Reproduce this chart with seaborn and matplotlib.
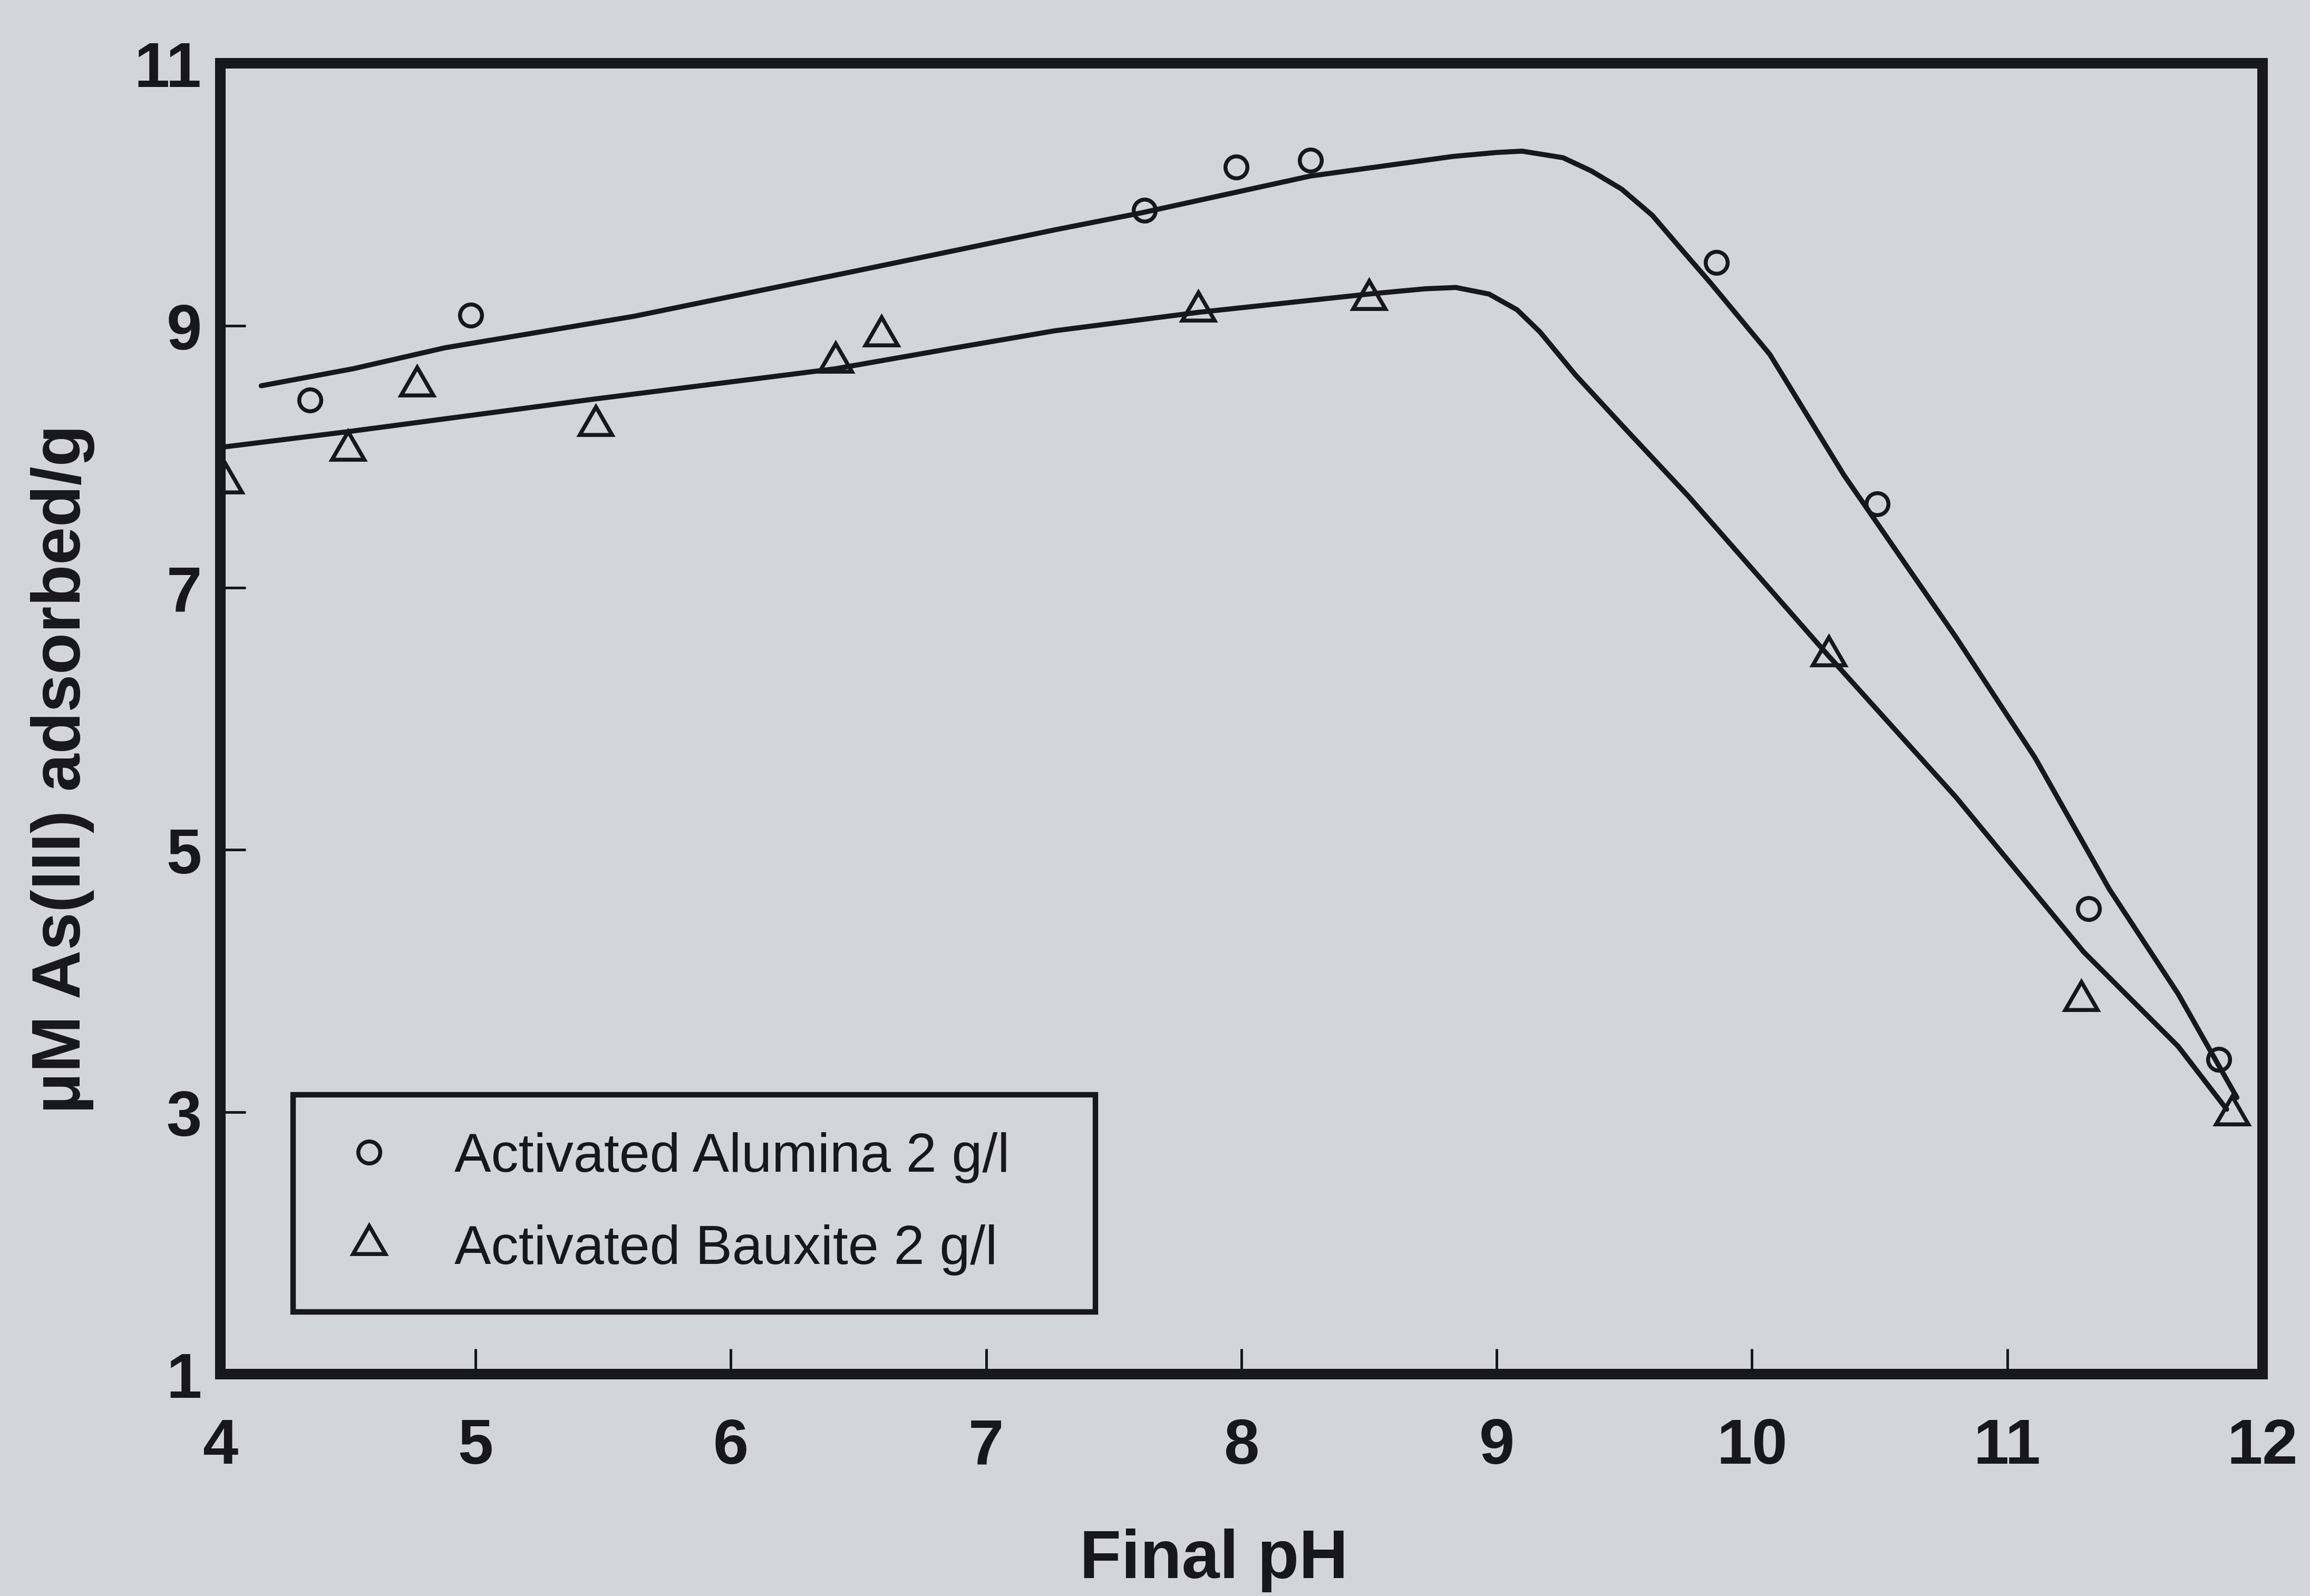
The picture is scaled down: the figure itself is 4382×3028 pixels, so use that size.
import matplotlib
matplotlib.use("Agg")
import matplotlib.pyplot as plt
from matplotlib.lines import Line2D
import seaborn as sns

# measured points (Final pH, uM As(III) adsorbed/g)
ph_alumina = [4.35, 4.98, 7.62, 7.98, 8.27, 9.86, 10.49, 11.32, 11.83]
as_alumina = [8.43, 9.08, 9.88, 10.21, 10.26, 9.48, 7.64, 4.55, 3.40]

ph_bauxite = [4.02, 4.50, 4.77, 5.47, 6.41, 6.59, 7.83, 8.50, 10.30, 11.29, 11.88]
as_bauxite = [7.80, 8.05, 8.54, 8.24, 8.72, 8.92, 9.11, 9.20, 6.48, 3.85, 2.98]

# fitted curves
fit_ph_alumina = [4.16, 4.52, 4.88, 5.25, 5.62, 6.50, 7.27, 7.61, 8.27, 8.83, 9.00,
                  9.10, 9.26, 9.37, 9.49, 9.61, 9.72, 9.84, 10.07, 10.36, 10.80,
                  11.11, 11.40, 11.67, 11.90]
fit_as_alumina = [8.54, 8.67, 8.83, 8.95, 9.07, 9.42, 9.73, 9.86, 10.14, 10.29, 10.32,
                  10.33, 10.28, 10.18, 10.04, 9.84, 9.59, 9.32, 8.78, 7.86, 6.62,
                  5.70, 4.70, 3.90, 3.11]

fit_ph_bauxite = [4.00, 4.50, 5.47, 6.41, 6.85, 7.27, 7.83, 8.50, 8.72, 8.84, 8.97,
                  9.08, 9.17, 9.31, 9.50, 9.75, 10.30, 10.80, 11.30, 11.67, 11.86]
fit_as_bauxite = [8.07, 8.19, 8.44, 8.67, 8.82, 8.96, 9.10, 9.24, 9.28, 9.29, 9.24,
                  9.12, 8.95, 8.62, 8.22, 7.70, 6.48, 5.40, 4.22, 3.50, 3.02]

labels = ["Activated Alumina 2 g/l", "Activated Bauxite 2 g/l"]
x_ticks = [4, 5, 6, 7, 8, 9, 10, 11, 12]
y_ticks = [1, 3, 5, 7, 9, 11]

bg = "#d3d5db"
ink = "#17171d"

sns.set_theme(style="ticks")
plt.rcParams["font.family"] = ["Liberation Sans", "DejaVu Sans"]
plt.rcParams["text.color"] = ink
plt.rcParams["axes.labelcolor"] = ink

fig = plt.figure(figsize=(4382 / 300, 3029 / 300), dpi=300, facecolor=bg)
ax = fig.add_axes([0.0954, 0.139, 0.884, 0.821])
ax.set_facecolor(bg)

# fitted curves
sns.lineplot(x=fit_ph_alumina, y=fit_as_alumina, estimator=None, sort=False,
             color=ink, linewidth=2.3, ax=ax)
sns.lineplot(x=fit_ph_bauxite, y=fit_as_bauxite, estimator=None, sort=False,
             color=ink, linewidth=2.3, ax=ax)

# data points
circle_kw = dict(marker="o", markersize=10, markerfacecolor="none",
                 markeredgecolor=ink, markeredgewidth=1.8)
tri_kw = dict(marker=(3, 0, 0), markersize=17, markerfacecolor="none",
              markeredgecolor=ink, markeredgewidth=1.8)
sns.lineplot(x=ph_alumina, y=as_alumina, estimator=None, sort=False,
             linestyle="", color=ink, ax=ax, **circle_kw)
sns.lineplot(x=ph_bauxite, y=as_bauxite, estimator=None, sort=False,
             linestyle="", color=ink, ax=ax, **tri_kw)

ax.set_xlim(4, 12)
ax.set_ylim(1, 11)
ax.set_xticks(x_ticks)
ax.set_yticks(y_ticks)
ax.tick_params(direction="in", length=11.5, width=1.2, color=ink,
               labelsize=29, labelcolor=ink, top=False, right=False)
ax.tick_params(axis="x", pad=19.5)
ax.tick_params(axis="y", pad=8.5)
for lab in ax.get_xticklabels() + ax.get_yticklabels():
    lab.set_fontweight("bold")

for sp in ax.spines.values():
    sp.set_visible(True)
    sp.set_linewidth(4.8)
    sp.set_color(ink)

ax.set_xlabel("Final pH", fontsize=31, fontweight="bold")
ax.set_ylabel("μM As(III) adsorbed/g", fontsize=31, fontweight="bold")
ax.xaxis.set_label_coords(0.4866, -0.1176)
ax.yaxis.set_label_coords(-0.0614, 0.462)

handles = [
    Line2D([], [], linestyle="", **circle_kw),
    Line2D([], [], linestyle="", **tri_kw),
]
leg = ax.legend(handles, labels, loc="lower left",
                bbox_to_anchor=(0.0356, 0.0474, 0.393, 0.166), mode="expand",
                fontsize=25, frameon=True, fancybox=False, framealpha=1,
                borderpad=0.67, labelspacing=0.75, handlelength=1.42,
                handletextpad=0.85, borderaxespad=0)
leg.get_frame().set_facecolor(bg)
leg.get_frame().set_edgecolor(ink)
leg.get_frame().set_linewidth(2.5)

fig.savefig("out.png", dpi=300, facecolor=bg)
